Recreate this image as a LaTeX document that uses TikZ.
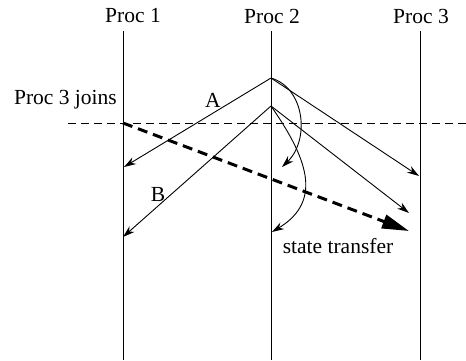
\documentclass[tikz,border=0pt]{standalone}
\usepackage{fontspec}
\setmainfont{Liberation Serif}
\usetikzlibrary{arrows.meta}
\begin{document}
\begin{tikzpicture}[x=1pt,y=-1pt,
  lbl/.style={font=\fontsize{21.5}{24}\selectfont, inner sep=0pt},
  timeline/.style={line width=1pt},
  msg/.style={line width=0.9pt, -{Stealth[length=12pt,width=7.5pt]}},
  joinline/.style={line width=0.9pt, dash pattern=on 8pt off 5pt},
  xfer/.style={line width=3pt, dash pattern=on 10pt off 6pt, -{Triangle[length=27pt,width=14pt]}}]
\useasboundingbox (0,0) rectangle (466,360);
% process labels
\node[lbl] (l1) at (133,16) {Proc 1};
\node[lbl] (l2) at (272,16) {Proc 2};
\node[lbl] (l3) at (421,16) {Proc 3};
% timelines
\coordinate (t1) at (123,31); \coordinate (b1) at (123,360);
\coordinate (t2) at (271,31); \coordinate (b2) at (271,360);
\coordinate (t3) at (420,31); \coordinate (b3) at (420,360);
\draw[timeline] (t1) -- (b1);
\draw[timeline] (t2) -- (b2);
\draw[timeline] (t3) -- (b3);
% join line
\node[lbl, anchor=east] (join) at (117,100) {Proc 3 joins};
\coordinate (jl) at (68,123); \coordinate (jr) at (466,123);
\draw[joinline] (jl) -- (jr);
% events
\coordinate (sa) at (271,78);
\coordinate (sb) at (271,106);
\coordinate (j1) at (123,123);
\coordinate (ra1) at (124,167);
\coordinate (ra3) at (419,176);
\coordinate (ra2) at (282,167);
\coordinate (rb1) at (123,237);
\coordinate (rb3) at (409,213);
\coordinate (rb2) at (272,232);
\coordinate (st) at (409,231);
% messages
\draw[msg] (sa) -- (ra1);
\draw[msg] (sa) -- (ra3);
\draw[msg] (sa) .. controls (305,88) and (310,140) .. (ra2);
\draw[msg] (sb) -- (rb1);
\draw[msg] (sb) -- (rb3);
\draw[msg] (sb) .. controls (305,155) and (325,200) .. (rb2);
% state transfer
\draw[xfer] (j1) -- (st);
\node[lbl] (A) at (213,100) {A};
\node[lbl] (B) at (158,194) {B};
\node[lbl] (stx) at (338,246) {state transfer};
\end{tikzpicture}
\end{document}
